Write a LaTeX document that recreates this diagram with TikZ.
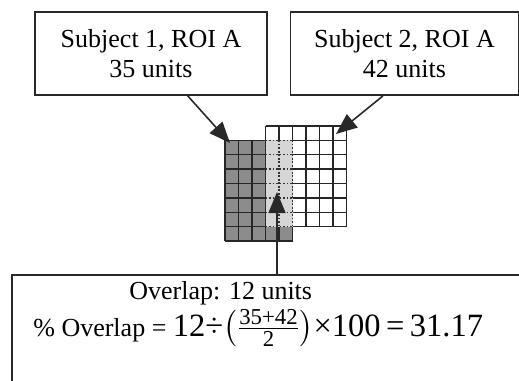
\documentclass[tikz,border=0pt]{standalone}
\usepackage{amsmath}
\usepackage{fontspec}
\setmainfont{Liberation Serif}
\usepackage{tikz}
\usetikzlibrary{arrows.meta,positioning}
\definecolor{roidark}{RGB}{140,140,140}
\definecolor{roilight}{RGB}{214,214,214}
\definecolor{edge}{RGB}{40,40,40}
\newcommand{\halfsum}{\genfrac{}{}{0.4pt}{1}{\text{35+42}}{\text{2}}}

\begin{document}
\begin{tikzpicture}[
  x=0.02cm, y=-0.02cm,
  font=\fontsize{14.8}{17}\selectfont,
  labelbox/.style={draw=edge, line width=1.1pt, align=center, inner sep=0pt},
  plaintext/.style={inner sep=0pt, anchor=west},
  pointer/.style={-{Triangle[length=0.42cm, width=0.34cm]}, draw=edge, fill=edge, line width=0.9pt},
  cellline/.style={line width=0.8pt, draw=black!85},
  overlapline/.style={line width=0.8pt, dash pattern=on 1pt off 1pt, draw=black!80}
]
\useasboundingbox (0,0) rectangle (519,380);
\clip (0,0) rectangle (519,380);

% Label boxes
\node[labelbox, minimum width=4.634cm, minimum height=1.654cm] (s1box) at (151,53.6) {Subject 1, ROI A\\35 units};
\node[labelbox, minimum width=4.56cm, minimum height=1.654cm] (s2box) at (404.5,53.6) {Subject 2, ROI A\\42 units};
\node[labelbox, minimum width=10.612cm, minimum height=2.5cm] (ovbox) at (277,337.5) {};
\node[plaintext] (ovtitle) at (129,293) {Overlap: 12 units};
\node[plaintext] (ovformula) at (33,328) {\% Overlap = {\fontsize{18.5}{21}\selectfont 12÷$\bigl(\halfsum\bigr)$×100\,=\,31.17}};

% ROI grids
\fill[roidark] (225,140.2) rectangle (292.5,241);
\fill[white] (265.5,125.8) rectangle (346.5,226.6);
\foreach \i in {0,...,5}
  \draw[cellline] (225+\i*13.5,140.2) -- (225+\i*13.5,241);
\foreach \j in {0,...,7}
  \draw[cellline] (225,140.2+\j*14.4) -- (292.5,140.2+\j*14.4);
\foreach \i in {0,...,6}
  \draw[cellline] (265.5+\i*13.5,125.8) -- (265.5+\i*13.5,226.6);
\foreach \j in {0,...,7}
  \draw[cellline] (265.5,125.8+\j*14.4) -- (346.5,125.8+\j*14.4);
% overlap
\fill[roilight] (265.5,140.2) rectangle (292.5,226.6);
\foreach \i in {0,1,2}
  \draw[overlapline] (265.5+\i*13.5,140.2) -- (265.5+\i*13.5,226.6);
\foreach \j in {0,...,6}
  \draw[overlapline] (265.5,140.2+\j*14.4) -- (292.5,140.2+\j*14.4);

% Connectors
\coordinate (tipA) at (230,143);
\coordinate (tipB) at (336,134);
\coordinate (tipC) at (277,192);
\draw[pointer] (s1box.-49) -- (tipA);
\draw[pointer] (s2box.-117) -- (tipB);
\draw[pointer] (ovbox.north) -- (tipC);
\end{tikzpicture}
\end{document}
